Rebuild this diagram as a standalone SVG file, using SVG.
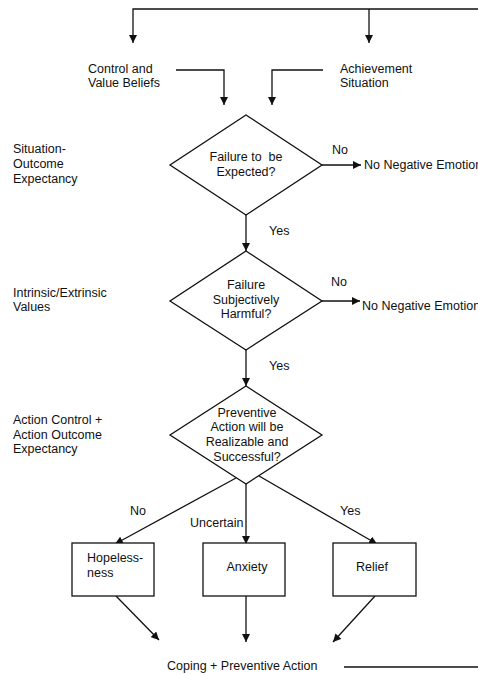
<svg xmlns="http://www.w3.org/2000/svg" width="478" height="675" viewBox="0 0 478 675">
<style>
text{font-family:"Liberation Sans",Arial,sans-serif;font-size:12.5px;fill:#111}
.m{text-anchor:middle}
.pre{white-space:pre}
.ln{stroke:#111;stroke-width:1.3;fill:none}
.sh{stroke:#111;stroke-width:1.3;fill:#fff}
</style>
<defs>
<marker id="ah" viewBox="0 0 10 10" refX="10" refY="5" markerWidth="8" markerHeight="8" markerUnits="userSpaceOnUse" orient="auto">
<path d="M0,0 L10,5 L0,10 z" fill="#111"/>
</marker>
</defs>
<rect width="478" height="675" fill="#fff"/>
<g id="labels">
<text x="13" y="153">Situation-</text>
<text x="13" y="168">Outcome</text>
<text x="13" y="183">Expectancy</text>
<text x="13" y="297">Intrinsic/Extrinsic</text>
<text x="13" y="311">Values</text>
<text x="13" y="424">Action Control +</text>
<text x="13" y="439">Action Outcome</text>
<text x="13" y="453">Expectancy</text>
</g>
<g id="connectors">
<path class="ln" d="M478,9 H133 V43" marker-end="url(#ah)"/>
<path class="ln" d="M369,9 V43" marker-end="url(#ah)"/>
<path class="ln" d="M176,70 H224 V105" marker-end="url(#ah)"/>
<path class="ln" d="M323,70 H272 V105" marker-end="url(#ah)"/>
<path class="ln" d="M322,165 H361" marker-end="url(#ah)"/>
<path class="ln" d="M246,215 V251" marker-end="url(#ah)"/>
<path class="ln" d="M322,301 H360" marker-end="url(#ah)"/>
<path class="ln" d="M246,350 V386" marker-end="url(#ah)"/>
<path class="ln" d="M236,478 L115,544" marker-end="url(#ah)"/>
<path class="ln" d="M246,484 V544" marker-end="url(#ah)"/>
<path class="ln" d="M259,476 L377,544" marker-end="url(#ah)"/>
<path class="ln" d="M116,596 L159,640" marker-end="url(#ah)"/>
<path class="ln" d="M246,596 V642" marker-end="url(#ah)"/>
<path class="ln" d="M375,596 L333,642" marker-end="url(#ah)"/>
<path class="ln" d="M344,667 H478"/>
<text x="332" y="154">No</text>
<text x="269" y="235">Yes</text>
<text x="331" y="286">No</text>
<text x="269" y="370">Yes</text>
<text x="130" y="515">No</text>
<text x="190" y="527">Uncertain</text>
<text x="340" y="515">Yes</text>
</g>
<g id="control-value"><text x="88" y="73">Control and</text><text x="88" y="87">Value Beliefs</text></g>
<g id="achievement"><text x="340" y="73">Achievement</text><text x="340" y="87">Situation</text></g>
<g id="d1">
<path class="sh" d="M246,115 L322,165 L246,215 L170,165 z"/>
<text class="m pre" x="246" y="161">Failure to  be</text>
<text class="m" x="246" y="176">Expected?</text>
</g>
<g id="noneg1"><text x="364" y="169">No Negative Emotion</text></g>
<g id="d2">
<path class="sh" d="M246,251 L322,301 L246,350 L170,301 z"/>
<text class="m" x="246" y="289">Failure</text>
<text class="m" x="246" y="304">Subjectively</text>
<text class="m" x="246" y="318">Harmful?</text>
</g>
<g id="noneg2"><text x="362" y="310">No Negative Emotion</text></g>
<g id="d3">
<path class="sh" d="M246,386 L322,435 L246,484 L170,435 z"/>
<text class="m" x="247" y="417">Preventive</text>
<text class="m" x="247" y="431">Action will be</text>
<text class="m" x="247" y="446">Realizable and</text>
<text class="m" x="247" y="461">Successful?</text>
</g>
<g id="hopeless">
<rect class="sh" x="72" y="543" width="82" height="53"/>
<text x="87" y="562">Hopeless-</text>
<text x="87" y="577">ness</text>
</g>
<g id="anxiety">
<rect class="sh" x="203" y="543" width="82" height="53"/>
<text class="m" x="247" y="571">Anxiety</text>
</g>
<g id="relief">
<rect class="sh" x="333" y="543" width="83" height="53"/>
<text class="m" x="372" y="571">Relief</text>
</g>
<g id="coping"><text x="167" y="670">Coping + Preventive Action</text></g>
</svg>
